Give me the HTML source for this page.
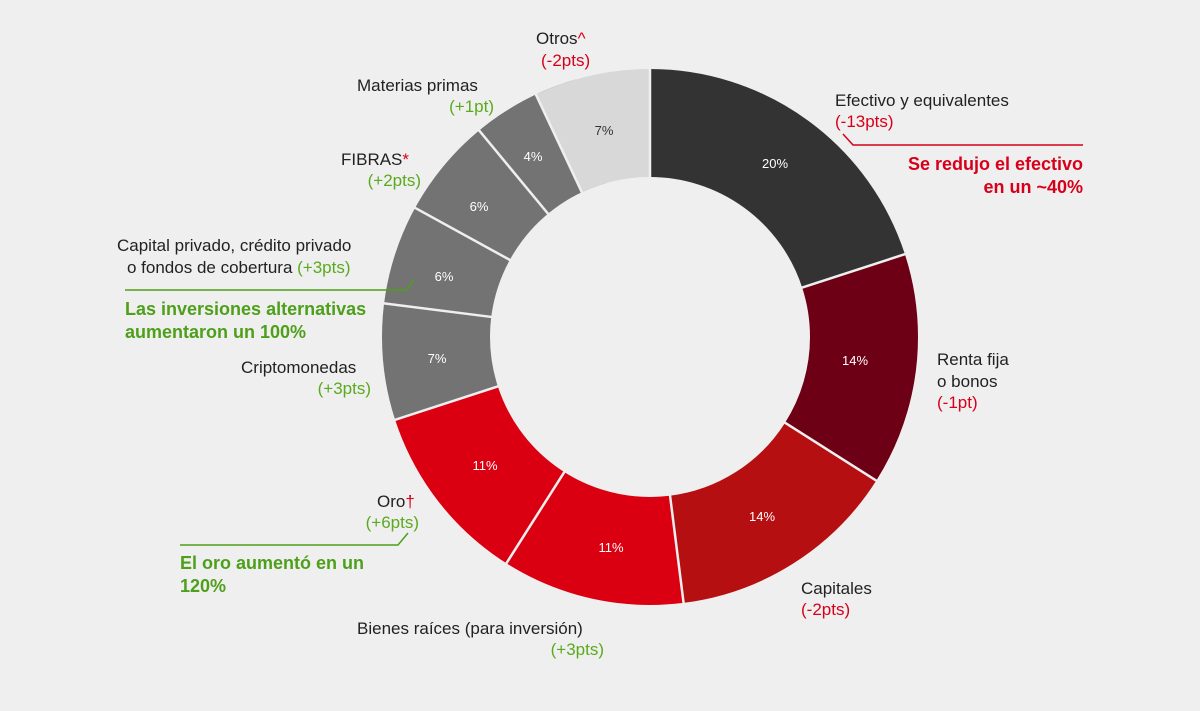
<!DOCTYPE html>
<html><head><meta charset="utf-8"><style>
body{margin:0;background:#efefef;}
svg{display:block;font-family:"Liberation Sans",sans-serif;}
.k{fill:#222;font-size:17px}
.g{fill:#5aaa1e;font-size:17px}
.r{fill:#d7001a;font-size:17px}
.p{fill:#fff;font-size:13px;text-anchor:middle}
.gb{fill:#4e9f1a;font-size:18px;font-weight:bold}
.rb{fill:#d7001a;font-size:18px;font-weight:bold}
</style></head><body>
<svg width="1200" height="711" viewBox="0 0 1200 711">
<rect width="1200" height="711" fill="#efefef"/>
<g transform="translate(650,337) rotate(-90)" fill="none" stroke-width="108">
<circle r="214" stroke="#333333" stroke-dasharray="268.9 2000" stroke-dashoffset="0"/>
<circle r="214" stroke="#6e0016" stroke-dasharray="188.2 2000" stroke-dashoffset="-268.9"/>
<circle r="214" stroke="#b50f12" stroke-dasharray="188.2 2000" stroke-dashoffset="-457.2"/>
<circle r="214" stroke="#db0011" stroke-dasharray="295.8 2000" stroke-dashoffset="-645.4"/>
<circle r="214" stroke="#737373" stroke-dasharray="342.9 2000" stroke-dashoffset="-941.2"/>
<circle r="214" stroke="#d8d8d8" stroke-dasharray="94.1 2000" stroke-dashoffset="-1250.4"/>
</g>
<g transform="translate(650,337)" stroke="#efefef" stroke-width="2.5">
<line x1="0" y1="-158" x2="0" y2="-270"/>
<line x1="0" y1="-158" x2="0" y2="-270" transform="rotate(72)"/>
<line x1="0" y1="-158" x2="0" y2="-270" transform="rotate(122.4)"/>
<line x1="0" y1="-158" x2="0" y2="-270" transform="rotate(172.8)"/>
<line x1="0" y1="-158" x2="0" y2="-270" transform="rotate(212.4)"/>
<line x1="0" y1="-158" x2="0" y2="-270" transform="rotate(252)"/>
<line x1="0" y1="-158" x2="0" y2="-270" transform="rotate(277.2)"/>
<line x1="0" y1="-158" x2="0" y2="-270" transform="rotate(298.8)"/>
<line x1="0" y1="-158" x2="0" y2="-270" transform="rotate(320.4)"/>
<line x1="0" y1="-158" x2="0" y2="-270" transform="rotate(334.8)"/>
</g>
<text class="p" x="775" y="168">20%</text>
<text class="p" x="855" y="365">14%</text>
<text class="p" x="762" y="521">14%</text>
<text class="p" x="611" y="552">11%</text>
<text class="p" x="485" y="470">11%</text>
<text class="p" x="437" y="363">7%</text>
<text class="p" x="444" y="281">6%</text>
<text class="p" x="479" y="211">6%</text>
<text class="p" x="533" y="161">4%</text>
<text class="p" x="604" y="135" style="fill:#333">7%</text>

<text class="k" x="536" y="44">Otros<tspan class="r">^</tspan></text>
<text class="r" x="541" y="66">(-2pts)</text>
<text class="k" x="357" y="91">Materias primas</text>
<text class="g" x="494" y="112" text-anchor="end">(+1pt)</text>
<text class="k" x="341" y="165">FIBRAS<tspan class="r">*</tspan></text>
<text class="g" x="421" y="186" text-anchor="end">(+2pts)</text>
<text class="k" x="117" y="251">Capital privado, crédito privado</text>
<text class="k" x="127" y="273">o fondos de cobertura <tspan class="g">(+3pts)</tspan></text>
<polyline points="125,290 406,290 414,280" fill="none" stroke="#4e9f1a" stroke-width="1.5"/>
<text class="gb" x="125" y="315">Las inversiones alternativas</text>
<text class="gb" x="125" y="338">aumentaron un 100%</text>
<text class="k" x="241" y="373">Criptomonedas</text>
<text class="g" x="371" y="394" text-anchor="end">(+3pts)</text>
<text class="k" x="377" y="507">Oro<tspan class="r">†</tspan></text>
<text class="g" x="419" y="528" text-anchor="end">(+6pts)</text>
<polyline points="180,545 398,545 408,533" fill="none" stroke="#4e9f1a" stroke-width="1.5"/>
<text class="gb" x="180" y="569">El oro aumentó en un</text>
<text class="gb" x="180" y="592">120%</text>
<text class="k" x="357" y="634">Bienes raíces (para inversión)</text>
<text class="g" x="604" y="655" text-anchor="end">(+3pts)</text>
<text class="k" x="801" y="594">Capitales</text>
<text class="r" x="801" y="615">(-2pts)</text>
<text class="k" x="937" y="365">Renta fija</text>
<text class="k" x="937" y="387">o bonos</text>
<text class="r" x="937" y="408">(-1pt)</text>
<text class="k" x="835" y="106">Efectivo y equivalentes</text>
<text class="r" x="835" y="127">(-13pts)</text>
<polyline points="843,134 853,145 1083,145" fill="none" stroke="#d7001a" stroke-width="1.5"/>
<text class="rb" x="1083" y="170" text-anchor="end">Se redujo el efectivo</text>
<text class="rb" x="1083" y="193" text-anchor="end">en un ~40%</text>
</svg>
</body></html>
